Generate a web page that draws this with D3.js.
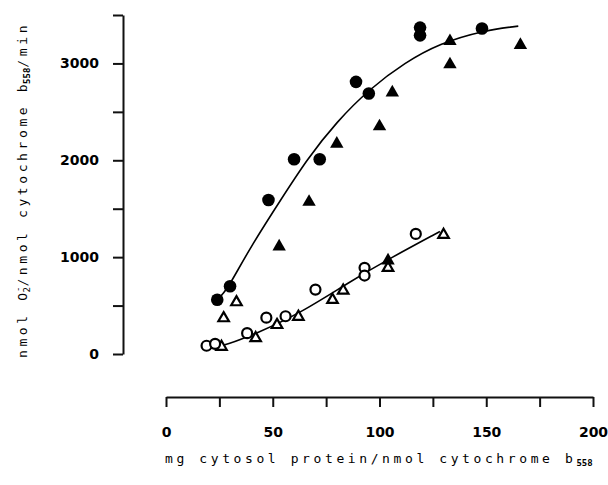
<!DOCTYPE html>
<html>
<head>
<meta charset="utf-8">
<script src="https://cdn.jsdelivr.net/npm/d3@7"></script>
<style>
  html, body { margin: 0; padding: 0; background: #fff; }
  svg { display: block; }
</style>
</head>
<body>
<svg id="chart" width="608" height="485"></svg>
<script>
// ---- data ----
const xTickValues = [0, 25, 50, 75, 100, 125, 150, 175, 200];
const xTickLabels = ["0", "", "50", "", "100", "", "150", "", "200"];
const yTickValues = [0, 500, 1000, 1500, 2000, 2500, 3000, 3500];
const yTickLabels = ["0", "", "1000", "", "2000", "", "3000", ""];

// filled circles
const filledCircles = [
  [24, 560], [30, 700], [48, 1590], [60, 2010], [72, 2010],
  [89, 2810], [95, 2690], [119, 3290], [119, 3370], [148, 3360]
];
// filled triangles
const filledTriangles = [
  [53, 1120], [67, 1580], [80, 2180], [100, 2360], [106, 2710],
  [133, 3000], [133, 3240], [166, 3200], [104, 975]
];
// open circles
const openCircles = [
  [19, 85], [23, 105], [38, 215], [47, 375], [56, 390],
  [70, 665], [93, 890], [93, 810], [117, 1240]
];
// open triangles
const openTriangles = [
  [26, 85], [27, 380], [33, 545], [42, 175], [52, 310], [62, 395],
  [78, 570], [83, 665], [104, 900], [130, 1240]
];
// fitted curves (guide points)
const upperCurve = [
  [24, 560], [27, 630], [30, 720], [40, 1120], [53.4, 1580], [66, 2010],
  [80, 2400], [95.5, 2740], [112, 3010], [128, 3205], [148.6, 3340], [165, 3385]
];
const lowerCurve = [
  [21, 60], [28.4, 93], [42.5, 214], [62.8, 420], [86.2, 748],
  [105, 989], [128.3, 1265]
];

// ---- drawing ----
const svg = d3.select("#chart");
const x = d3.scaleLinear().domain([0, 200]).range([166, 593]);
const y = d3.scaleLinear().domain([0, 3500]).range([354, 15]);

const axisColor = "#111";

// x axis (offset below)
const xAxis = d3.axisBottom(x)
  .tickValues(xTickValues)
  .tickFormat((d, i) => xTickLabels[i])
  .tickSize(10)
  .tickSizeOuter(0)
  .tickPadding(20);
const gx = svg.append("g").attr("transform", "translate(0,397)").call(xAxis);

// y axis
const yAxis = d3.axisLeft(y)
  .tickValues(yTickValues)
  .tickFormat((d, i) => yTickLabels[i])
  .tickSize(10)
  .tickSizeOuter(0)
  .tickPadding(14);
const gy = svg.append("g").attr("transform", "translate(123,0)").call(yAxis);

[gx, gy].forEach(g => {
  g.select(".domain").attr("stroke", axisColor).attr("stroke-width", 2);
  g.selectAll(".tick line").attr("stroke", axisColor).attr("stroke-width", 2);
  g.selectAll(".tick text")
    .attr("fill", "#000")
    .style("font-family", "'DejaVu Sans', sans-serif")
    .style("font-weight", "bold")
    .style("font-size", "14px");
});

// curves
const line = d3.line().x(d => x(d[0])).y(d => y(d[1])).curve(d3.curveBasis);
svg.append("path").datum(upperCurve).attr("d", line)
  .attr("fill", "none").attr("stroke", "#000").attr("stroke-width", 1.6);
svg.append("path").datum(lowerCurve).attr("d", line)
  .attr("fill", "none").attr("stroke", "#000").attr("stroke-width", 1.6);

// markers
const tri = (size) => d3.symbol().type(d3.symbolTriangle).size(size)();

svg.append("g").selectAll("path").data(openTriangles).join("path")
  .attr("d", tri(48))
  .attr("transform", d => `translate(${x(d[0])},${y(d[1]) + 1})`)
  .attr("fill", "#fff").attr("stroke", "#000").attr("stroke-width", 2.2);

svg.append("g").selectAll("circle").data(openCircles).join("circle")
  .attr("cx", d => x(d[0])).attr("cy", d => y(d[1])).attr("r", 5)
  .attr("fill", "#fff").attr("stroke", "#000").attr("stroke-width", 2.2);

svg.append("g").selectAll("path").data(filledTriangles).join("path")
  .attr("d", tri(78))
  .attr("transform", d => `translate(${x(d[0])},${y(d[1]) + 1})`)
  .attr("fill", "#000");

svg.append("g").selectAll("circle").data(filledCircles).join("circle")
  .attr("cx", d => x(d[0])).attr("cy", d => y(d[1])).attr("r", 6.3)
  .attr("fill", "#000");

// axis titles
const labelFont = "'DejaVu Sans Mono', monospace";
const ls = "3.6px";
const xt = svg.append("text")
  .attr("x", 165).attr("y", 463)
  .style("font-family", labelFont).style("font-size", "13px").attr("fill", "#000");
xt.append("tspan").style("letter-spacing", ls).text("mg cytosol protein/nmol cytochrome b");
xt.append("tspan").attr("dy", 3).style("font-size", "9px").style("font-weight", "bold").text("558");

const yt = svg.append("text")
  .attr("transform", "translate(27,358) rotate(-90)")
  .attr("x", 0).attr("y", 0)
  .style("font-family", labelFont).style("font-size", "13px").attr("fill", "#000");
yt.append("tspan").style("letter-spacing", ls).text("nmol O");
yt.append("tspan").attr("dy", 3).attr("dx", -3).style("font-size", "9px").text("2");
yt.append("tspan").attr("dy", -9).attr("dx", -5).style("font-size", "9px").text("-");
yt.append("tspan").attr("dy", 6).style("letter-spacing", ls).text("/nmol cytochrome b");
yt.append("tspan").attr("dy", 3).attr("dx", -3).style("font-size", "9px").style("font-weight", "bold").text("558");
yt.append("tspan").attr("dy", -3).style("letter-spacing", ls).text("/min");
</script>
</body>
</html>
